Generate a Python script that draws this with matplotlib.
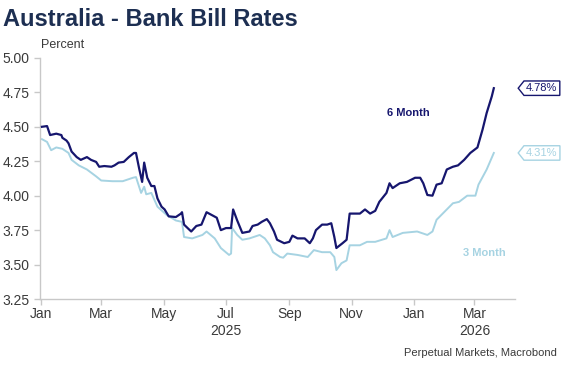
import numpy as np
import pandas as pd
import matplotlib
matplotlib.use('Agg')
import matplotlib.pyplot as plt
from matplotlib.path import Path

plt.rcParams['font.family'] = ['Liberation Sans', 'DejaVu Sans']

# 6 month bank bill rate (%)
m6_dates = ['2025-01-02', '2025-01-07', '2025-01-10', '2025-01-16', '2025-01-21', '2025-01-22',
            '2025-01-26', '2025-01-28', '2025-01-31', '2025-02-05', '2025-02-09', '2025-02-15',
            '2025-02-19', '2025-02-24', '2025-02-27', '2025-03-04', '2025-03-11', '2025-03-14',
            '2025-03-18', '2025-03-23', '2025-03-28', '2025-04-02', '2025-04-04', '2025-04-07',
            '2025-04-10', '2025-04-12', '2025-04-15', '2025-04-19', '2025-04-22', '2025-04-25',
            '2025-04-29', '2025-05-02', '2025-05-06', '2025-05-13', '2025-05-18', '2025-05-19',
            '2025-05-21', '2025-05-28', '2025-06-02', '2025-06-07', '2025-06-12', '2025-06-17',
            '2025-06-22', '2025-06-26', '2025-07-01', '2025-07-06', '2025-07-08', '2025-07-12',
            '2025-07-17', '2025-07-24', '2025-07-27', '2025-08-01', '2025-08-05', '2025-08-10',
            '2025-08-13', '2025-08-17', '2025-08-20', '2025-08-27', '2025-09-01', '2025-09-04',
            '2025-09-09', '2025-09-16', '2025-09-21', '2025-09-24', '2025-09-27', '2025-10-03',
            '2025-10-08', '2025-10-12', '2025-10-15', '2025-10-17', '2025-10-23', '2025-10-27',
            '2025-10-30', '2025-11-04', '2025-11-09', '2025-11-14', '2025-11-19', '2025-11-24',
            '2025-11-28', '2025-12-05', '2025-12-08', '2025-12-11', '2025-12-18', '2025-12-25',
            '2026-01-02', '2026-01-07', '2026-01-10', '2026-01-14', '2026-01-19', '2026-01-23',
            '2026-01-28', '2026-02-02', '2026-02-08', '2026-02-13', '2026-02-19', '2026-02-25',
            '2026-03-04', '2026-03-09', '2026-03-13', '2026-03-18', '2026-03-20']
m6_vals = [4.50, 4.505, 4.44, 4.45, 4.44, 4.42,
           4.40, 4.38, 4.32, 4.28, 4.26, 4.28,
           4.26, 4.245, 4.21, 4.215, 4.21, 4.22,
           4.24, 4.245, 4.28, 4.31, 4.31, 4.20,
           4.10, 4.24, 4.13, 4.07, 4.07, 3.98,
           3.92, 3.90, 3.85, 3.845, 3.87, 3.88,
           3.79, 3.74, 3.78, 3.79, 3.88, 3.86,
           3.84, 3.75, 3.765, 3.765, 3.90, 3.82,
           3.73, 3.74, 3.78, 3.79, 3.81, 3.83,
           3.80, 3.74, 3.68, 3.655, 3.665, 3.71,
           3.69, 3.69, 3.655, 3.69, 3.75, 3.79,
           3.79, 3.80, 3.70, 3.62, 3.655, 3.68,
           3.87, 3.87, 3.87, 3.90, 3.87, 3.89,
           3.955, 4.02, 4.09, 4.055, 4.09, 4.10,
           4.13, 4.13, 4.09, 4.005, 4.00, 4.08,
           4.09, 4.19, 4.21, 4.22, 4.26, 4.31,
           4.35, 4.48, 4.60, 4.72, 4.78]

# 3 month bank bill rate (%)
m3_dates = ['2025-01-02', '2025-01-07', '2025-01-11', '2025-01-16', '2025-01-22', '2025-01-28',
            '2025-01-31', '2025-02-07', '2025-02-15', '2025-02-24', '2025-03-01', '2025-03-12',
            '2025-03-22', '2025-04-01', '2025-04-04', '2025-04-09', '2025-04-12', '2025-04-14',
            '2025-04-19', '2025-04-25', '2025-05-04', '2025-05-13', '2025-05-19', '2025-05-21',
            '2025-05-29', '2025-06-08', '2025-06-12', '2025-06-20', '2025-06-26', '2025-07-04',
            '2025-07-06', '2025-07-07', '2025-07-12', '2025-07-17', '2025-07-24', '2025-08-03',
            '2025-08-08', '2025-08-13', '2025-08-16', '2025-08-23', '2025-08-26', '2025-08-30',
            '2025-09-09', '2025-09-19', '2025-09-25', '2025-10-03', '2025-10-11', '2025-10-15',
            '2025-10-17', '2025-10-22', '2025-10-27', '2025-10-30', '2025-11-09', '2025-11-16',
            '2025-11-24', '2025-12-05', '2025-12-08', '2025-12-11', '2025-12-21', '2026-01-04',
            '2026-01-14', '2026-01-19', '2026-01-23', '2026-02-02', '2026-02-08', '2026-02-14',
            '2026-02-22', '2026-03-02', '2026-03-05', '2026-03-13', '2026-03-20']
m3_vals = [4.41, 4.39, 4.33, 4.35, 4.34, 4.31,
           4.26, 4.22, 4.19, 4.14, 4.11, 4.105,
           4.105, 4.13, 4.135, 4.02, 4.065, 4.01,
           4.02, 3.92, 3.86, 3.82, 3.81, 3.70,
           3.69, 3.715, 3.74, 3.69, 3.62, 3.57,
           3.58, 3.765, 3.715, 3.68, 3.69, 3.715,
           3.69, 3.64, 3.59, 3.555, 3.55, 3.58,
           3.57, 3.555, 3.605, 3.59, 3.59, 3.555,
           3.46, 3.51, 3.53, 3.64, 3.64, 3.665,
           3.665, 3.69, 3.75, 3.70, 3.73, 3.74,
           3.715, 3.74, 3.825, 3.90, 3.945, 3.955,
           4.00, 4.00, 4.08, 4.19, 4.31]

navy = '#16166e'
light = '#a6d3e2'
grey_txt = '#3a3a3a'
spine_col = '#c8c8c8'

m6 = pd.Series(m6_vals, index=pd.to_datetime(m6_dates))
m3 = pd.Series(m3_vals, index=pd.to_datetime(m3_dates))

fig = plt.figure(figsize=(5.7, 3.71), dpi=100)
ax = fig.add_axes([0.070, 0.194, 0.834, 0.650])

ax.plot(m3.index, m3.values, color=light, lw=1.4, zorder=2)
ax.plot(m6.index, m6.values, color=navy, lw=1.6, zorder=3)

ax.set_ylim(3.25, 5.0)
ax.set_yticks(np.arange(3.25, 5.01, 0.25))
ax.yaxis.set_major_formatter(plt.FuncFormatter(lambda v, p: f'{v:.2f}'))
ax.set_xlim(pd.Timestamp('2024-12-31'), pd.Timestamp('2026-04-10'))

ticks = pd.to_datetime(['2025-01-01', '2025-03-01', '2025-05-01', '2025-07-01', '2025-09-01',
                        '2025-11-01', '2026-01-01', '2026-03-01'])
labels = ['Jan', 'Mar', 'May', 'Jul\n2025', 'Sep', 'Nov', 'Jan', 'Mar\n2026']
ax.set_xticks(ticks)
ax.set_xticklabels(labels)

for s in ['top', 'right']:
    ax.spines[s].set_visible(False)
for s in ['left', 'bottom']:
    ax.spines[s].set_color(spine_col)
    ax.spines[s].set_linewidth(1.0)
ax.tick_params(axis='both', colors=spine_col, labelcolor=grey_txt, labelsize=10, length=4, width=1)
ax.tick_params(axis='x', pad=2)

fig.text(0.006, 0.948, 'Australia - Bank Bill Rates', fontsize=17, fontweight='bold',
         color='#1d2f52', ha='left', va='center')
fig.text(0.072, 0.880, 'Percent', fontsize=9, color=grey_txt, ha='left', va='center')
fig.text(0.977, 0.048, 'Perpetual Markets, Macrobond', fontsize=8, color=grey_txt,
         ha='right', va='center')

ax.text(pd.Timestamp('2025-12-06'), 4.60, '6 Month', fontsize=8, fontweight='bold',
        color=navy, ha='left', va='center')
ax.text(pd.Timestamp('2026-02-18'), 3.585, '3 Month', fontsize=8, fontweight='bold',
        color=light, ha='left', va='center')


def tag_box(x0, y0, width, height, mutation_size):
    pad = 0.2 * mutation_size
    x0 -= pad
    y0 -= pad
    w = width + 2 * pad
    h = height + 2 * pad
    tip = h * 0.4
    verts = [(x0 - tip, y0 + h / 2), (x0, y0 + h), (x0 + w, y0 + h),
             (x0 + w, y0), (x0, y0), (x0 - tip, y0 + h / 2)]
    return Path(verts, closed=True)


for ser, col in [(m6, navy), (m3, light)]:
    last = ser.values[-1]
    ax.text(1.023, last, f'{last:.2f}%', transform=ax.get_yaxis_transform(),
            fontsize=8, color=col, ha='left', va='center', clip_on=False,
            bbox=dict(boxstyle=tag_box, fc='white', ec=col, lw=1.0))

fig.savefig('out.png', dpi=100)
